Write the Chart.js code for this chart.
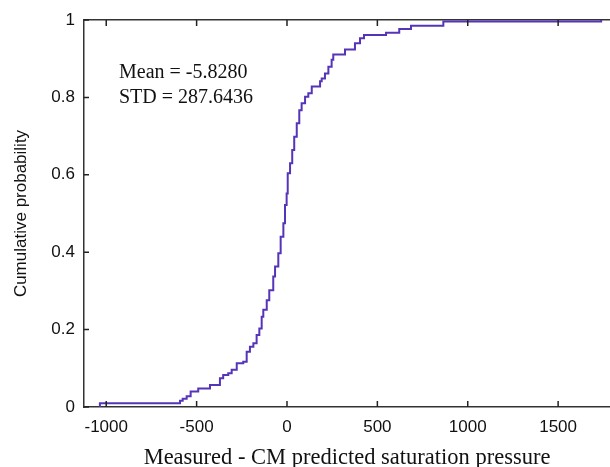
<!DOCTYPE html>
<html>
<head>
<meta charset="utf-8">
<script src="https://cdn.jsdelivr.net/npm/chart.js@4"></script>
<style>
  body { margin: 0; background: #fff; }
</style>
</head>
<body>
<canvas id="cdfChart" width="610" height="467"></canvas>
<script>
const ctx = document.getElementById('cdfChart').getContext('2d');

const diffValues = [
  -1035, -1035, -592, -577, -555, -533, -491, -426, -371, -353,
  -325, -306, -278, -242, -223, -205, -186, -168, -153, -140,
  -131, -112, -98, -76, -66, -48, -35, -20, -11, -2,
  4, 17, 29, 40, 54, 68, 81, 100, 118, 137,
  183, 192, 210, 229, 247, 256, 321, 376, 404, 426,
  548, 621, 686, 865, 1738
];
const cdfValues = [
  0, 0.01, 0.016, 0.021, 0.028, 0.040, 0.048, 0.057, 0.074, 0.083,
  0.087, 0.096, 0.113, 0.117, 0.143, 0.156, 0.165, 0.186, 0.203, 0.233,
  0.251, 0.276, 0.302, 0.337, 0.363, 0.397, 0.440, 0.475, 0.522, 0.552,
  0.604, 0.630, 0.664, 0.698, 0.733, 0.767, 0.785, 0.802, 0.811, 0.828,
  0.842, 0.849, 0.862, 0.879, 0.897, 0.911, 0.924, 0.940, 0.953, 0.961,
  0.967, 0.977, 0.985, 0.996, 1.0
];

const xTicks = [-1000, -500, 0, 500, 1000, 1500];
const yTicks = [0, 0.2, 0.4, 0.6, 0.8, 1];
const statsText = ['Mean = -5.8280', 'STD = 287.6436'];

const sans = "'Liberation Sans', Arial, sans-serif";
const serif = "'Liberation Serif', 'Times New Roman', serif";
const axisColor = '#333';

// matlab style ticks pointing into the plot
const innerTicks = {
  id: 'innerTicks',
  afterDraw(chart) {
    const { ctx, chartArea: a, scales: { x, y } } = chart;
    ctx.save();
    ctx.strokeStyle = '#222';
    ctx.lineWidth = 1.5;
    ctx.beginPath();
    x.ticks.forEach(t => {
      const px = x.getPixelForValue(t.value);
      ctx.moveTo(px, a.bottom); ctx.lineTo(px, a.bottom - 6);
      ctx.moveTo(px, a.top); ctx.lineTo(px, a.top + 6);
    });
    y.ticks.forEach(t => {
      const py = y.getPixelForValue(t.value);
      ctx.moveTo(a.left, py); ctx.lineTo(a.left + 5, py);
    });
    ctx.stroke();
    ctx.restore();
  }
};

const statsLabel = {
  id: 'statsLabel',
  afterDraw(chart) {
    const { ctx, chartArea: a } = chart;
    ctx.save();
    ctx.font = '20px ' + serif;
    ctx.fillStyle = '#111';
    ctx.textBaseline = 'alphabetic';
    statsText.forEach((t, i) => ctx.fillText(t, a.left + 35, a.top + 58 + i * 25));
    ctx.restore();
  }
};

new Chart(ctx, {
  type: 'line',
  data: {
    datasets: [{
      label: 'CDF',
      data: diffValues.map((v, i) => ({ x: v, y: cdfValues[i] })),
      borderColor: '#5534b8',
      borderWidth: 2,
      stepped: true,
      pointRadius: 0,
      fill: false
    }]
  },
  plugins: [innerTicks, statsLabel],
  options: {
    responsive: false,
    animation: false,
    layout: { padding: 0 },
    plugins: {
      legend: { display: false },
      tooltip: { enabled: false }
    },
    scales: {
      x: {
        type: 'linear',
        position: 'bottom',
        min: -1123,
        max: 1787,
        afterFit: s => { s.height = 60; },
        afterBuildTicks: s => { s.ticks = xTicks.map(v => ({ value: v })); },
        grid: { display: false, drawTicks: false },
        border: { display: true, color: axisColor, width: 1.5 },
        ticks: {
          color: '#111',
          font: { family: sans, size: 17 },
          padding: 10,
          maxRotation: 0,
          callback: v => String(v)
        },
        title: {
          display: true,
          text: 'Measured - CM predicted saturation pressure',
          color: '#111',
          font: { family: serif, size: 22.5 },
          padding: { top: 0, bottom: -5 }
        }
      },
      xTop: {
        type: 'linear',
        position: 'top',
        min: -1123,
        max: 1787,
        afterFit: s => { s.height = 20; },
        grid: { display: false, drawTicks: false },
        border: { display: true, color: axisColor, width: 1.5 },
        ticks: { display: false }
      },
      y: {
        min: 0,
        max: 1,
        afterFit: s => { s.width = 84; },
        afterBuildTicks: s => { s.ticks = yTicks.map(v => ({ value: v })); },
        grid: { display: false, drawTicks: false },
        border: { display: true, color: axisColor, width: 1.5 },
        ticks: {
          color: '#111',
          font: { family: sans, size: 17 },
          padding: 9,
          callback: v => String(v)
        },
        title: {
          display: true,
          text: 'Cumulative probability',
          color: '#111',
          font: { family: sans, size: 17 },
          padding: { top: 11, bottom: 0 }
        }
      }
    }
  }
});
</script>
</body>
</html>
